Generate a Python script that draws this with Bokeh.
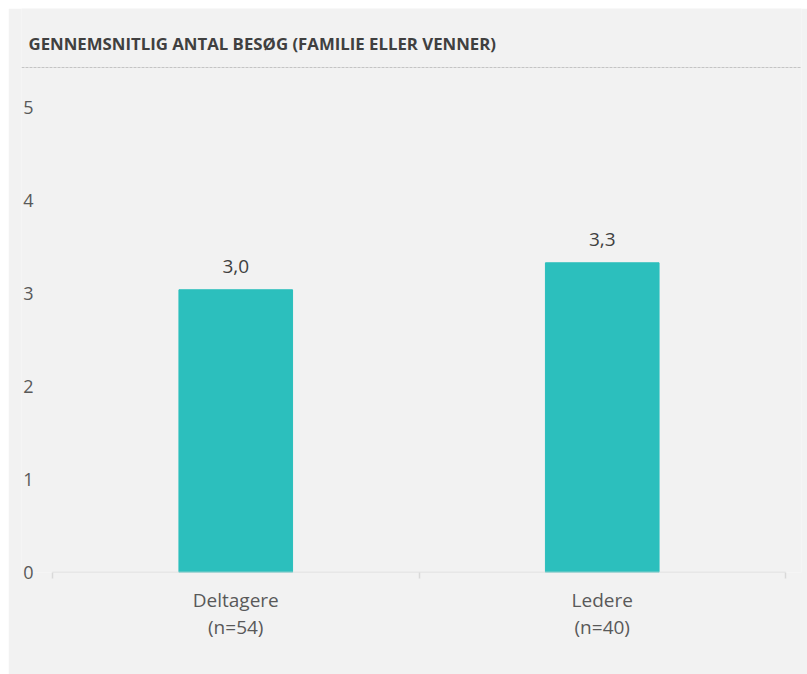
from bokeh.plotting import figure
from bokeh.models import ColumnDataSource, Range1d, FixedTicker, LabelSet, Label, Span
from bokeh.core.properties import value
from bokeh.embed import file_html
from bokeh.resources import INLINE

# ---- data ----
categories = ["Deltagere", "Ledere"]
sample_sizes = [54, 40]
values = [3.04, 3.33]
y_ticks = [0, 1, 2, 3, 4, 5]
title_text = "GENNEMSNITLIG ANTAL BESØG (FAMILIE ELLER VENNER)"

FONT = "Open Sans"

# ---- layout constants (pixels) ----
UNIT_Y = 93.0      # px per y unit
UNIT_X = 366.5     # px per category
FRAME_H = 564      # frame height (top of canvas to zero line)
PAD_L = 31         # frame extends left of first category boundary
PAD_R = 16         # frame extends right of last category boundary

n = len(categories)
x_pos = [i + 0.5 for i in range(n)]
value_labels = [f"{v:.1f}".replace(".", ",") for v in values]
src = ColumnDataSource(dict(x=x_pos, top=values, label=value_labels))

p = figure(width=799, height=666, output_backend="svg", toolbar_location=None,
           x_range=Range1d(-PAD_L / UNIT_X, n + PAD_R / UNIT_X),
           y_range=Range1d(0, FRAME_H / UNIT_Y),
           min_border_left=13, min_border_right=6, min_border_top=0, min_border_bottom=102,
           background_fill_color="#f2f2f2", border_fill_color="#f2f2f2",
           outline_line_color=None)
p.margin = (8, 0, 0, 8)

p.xgrid.visible = False
p.ygrid.visible = False

p.vbar(x="x", top="top", width=0.31, source=src, color="#2cbfbd")

# baseline (category axis line) spanning the category boundaries
p.segment(x0=[0], y0=[0], x1=[n], y1=[0], line_color="#d9d9d9", line_width=1.5)

p.add_layout(LabelSet(x="x", y="top", text="label", source=src, text_align="center",
                      text_baseline="bottom", y_offset=17, text_font=value(FONT),
                      text_font_size=value("19px"), text_color=value("#404040")))

# y axis
ya = p.yaxis[0]
ya.ticker = FixedTicker(ticks=y_ticks)
ya.axis_line_color = None
ya.major_tick_line_color = None
ya.minor_tick_line_color = None
ya.major_tick_out = 0
ya.major_tick_in = 0
ya.major_label_standoff = -12
ya.major_label_text_font = FONT
ya.major_label_text_font_size = "18px"
ya.major_label_text_color = "#595959"

# x axis
xa = p.xaxis[0]
xa.ticker = FixedTicker(ticks=x_pos, minor_ticks=list(range(n + 1)))
xa.major_label_overrides = {x: f"{c}\n(n={s})" for x, c, s in zip(x_pos, categories, sample_sizes)}
xa.major_tick_line_color = None
xa.major_tick_out = 0
xa.major_tick_in = 0
xa.minor_tick_in = 0
xa.minor_tick_out = 6
xa.minor_tick_line_color = "#d9d9d9"
xa.minor_tick_line_width = 1.5
xa.axis_line_color = None
xa.major_label_standoff = 8
xa.major_label_text_font = FONT
xa.major_label_text_font_size = "19px"
xa.major_label_text_color = "#595959"
xa.major_label_text_line_height = 1.05

# title and dashed rule (positions in pixels converted to data units)
p.add_layout(Label(x=(28 - 52) / UNIT_X, y=(572 - 43) / UNIT_Y, text=title_text,
                   text_font=FONT, text_font_style="bold", text_font_size="16.8px",
                   text_color="#404040", text_baseline="middle"))
p.add_layout(Span(location=(572 - 67) / UNIT_Y, dimension="width",
                  line_color="#c4c4c4", line_width=1, line_dash="3 1"))

open("out.html", "w").write(file_html(p, INLINE))
